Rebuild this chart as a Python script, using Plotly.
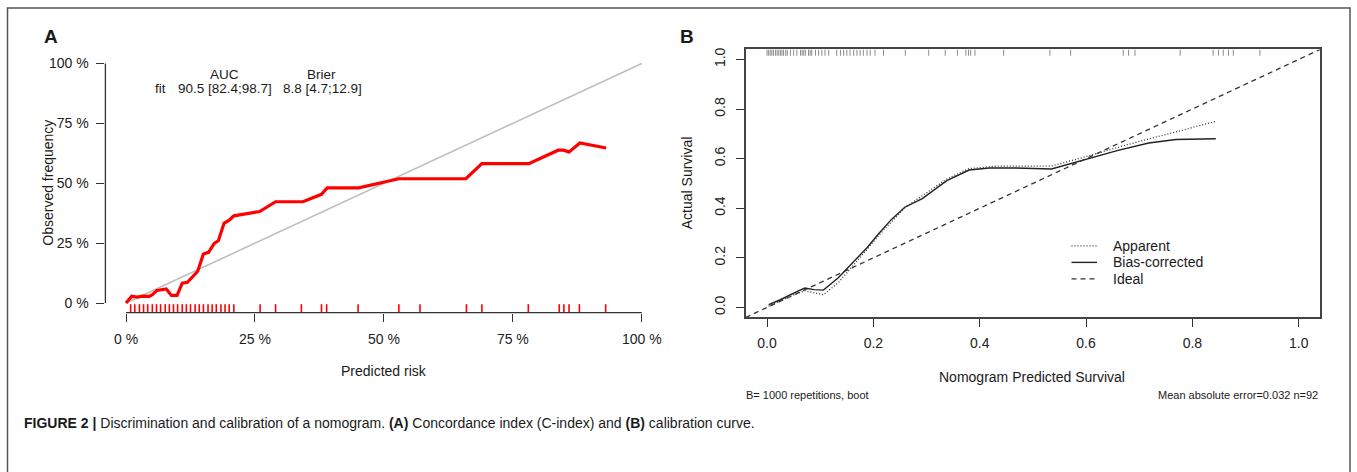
import plotly.graph_objects as go

W, H = 1357, 472

# ---------------- Data ----------------
# Panel A: calibration of predicted risk (fractions)
a_pred = [0.000, 0.011, 0.022, 0.032, 0.045, 0.051, 0.060, 0.078, 0.088, 0.099,
          0.109, 0.119, 0.139, 0.150, 0.160, 0.171, 0.179, 0.190, 0.200, 0.209,
          0.259, 0.290, 0.343, 0.379, 0.390, 0.451, 0.529, 0.659, 0.690, 0.781,
          0.838, 0.848, 0.859, 0.880, 0.931]
a_obs = [0.000, 0.029, 0.025, 0.029, 0.028, 0.035, 0.053, 0.059, 0.032, 0.032,
         0.083, 0.087, 0.133, 0.205, 0.212, 0.249, 0.260, 0.333, 0.346, 0.364,
         0.382, 0.423, 0.423, 0.454, 0.481, 0.481, 0.519, 0.519, 0.582, 0.582,
         0.638, 0.638, 0.631, 0.668, 0.647]
a_rug = [0.009, 0.017, 0.026, 0.034, 0.042, 0.051, 0.059, 0.067, 0.076, 0.084,
         0.092, 0.100, 0.109, 0.117, 0.125, 0.134, 0.142, 0.150, 0.159, 0.167,
         0.175, 0.184, 0.192, 0.200, 0.209, 0.260, 0.290, 0.340, 0.379, 0.389,
         0.450, 0.529, 0.570, 0.660, 0.690, 0.780, 0.840, 0.849, 0.859, 0.879,
         0.930]
a_ticks = [0, 0.25, 0.5, 0.75, 1.0]
a_ticktext = ["0 %", "25 %", "50 %", "75 %", "100 %"]

# Panel B: calibration curves
b_bias_x = [0.003, 0.025, 0.050, 0.071, 0.088, 0.106, 0.134, 0.159, 0.188, 0.209,
            0.234, 0.259, 0.292, 0.338, 0.380, 0.418, 0.468, 0.535, 0.601, 0.660,
            0.718, 0.769, 0.844]
b_bias_y = [0.011, 0.031, 0.058, 0.078, 0.072, 0.070, 0.120, 0.174, 0.241, 0.295,
            0.355, 0.404, 0.439, 0.511, 0.554, 0.562, 0.562, 0.558, 0.596, 0.633,
            0.663, 0.677, 0.680]
b_app_x = [0.003, 0.050, 0.071, 0.088, 0.106, 0.134, 0.159, 0.188, 0.209, 0.259,
           0.338, 0.380, 0.434, 0.535, 0.601, 0.677, 0.760, 0.844]
b_app_y = [0.005, 0.051, 0.067, 0.059, 0.051, 0.100, 0.161, 0.234, 0.288, 0.402,
           0.518, 0.560, 0.570, 0.570, 0.609, 0.656, 0.703, 0.750]
b_ideal = [-0.04, 1.04]
b_rug = [0.000, 0.003, 0.006, 0.009, 0.012, 0.016, 0.019, 0.022, 0.025, 0.028,
         0.031, 0.035, 0.038, 0.044, 0.050, 0.056, 0.063, 0.066, 0.069, 0.072,
         0.078, 0.081, 0.084, 0.091, 0.097, 0.103, 0.109, 0.116, 0.131, 0.138,
         0.144, 0.150, 0.156, 0.163, 0.169, 0.175, 0.181, 0.188, 0.194, 0.203,
         0.219, 0.260, 0.304, 0.335, 0.358, 0.374, 0.379, 0.383, 0.391, 0.445,
         0.532, 0.571, 0.670, 0.680, 0.692, 0.777, 0.839, 0.849, 0.858, 0.868,
         0.877, 0.927]
b_ticks = [0.0, 0.2, 0.4, 0.6, 0.8, 1.0]
b_ticktext = ["0.0", "0.2", "0.4", "0.6", "0.8", "1.0"]
legend_names = ["Apparent", "Bias-corrected", "Ideal"]

# ---------------- Layout helpers ----------------
def px(x):
    return x / W

def py(y):
    return 1 - y / H

FONT = "Liberation Sans, Arial, Helvetica, sans-serif"
RNG = [-0.04, 1.04]
A_XD = [px(105.4), px(662.4)]
A_YD = [py(312.0), py(52.1)]
B_XD = [px(745.8), px(1320.0)]
B_YD = [py(316.7), py(47.7)]
DOT = "1px,2px"
DASH = "5px,4px"


def to_paper(v, dom):
    return dom[0] + (v - RNG[0]) / (RNG[1] - RNG[0]) * (dom[1] - dom[0])


fig = go.Figure()

# Panel A
fig.add_trace(go.Scatter(x=[0, 1], y=[0, 1], mode="lines",
                         line=dict(color="#BEBEBE", width=1.6),
                         xaxis="x", yaxis="y", showlegend=False, hoverinfo="skip"))
fig.add_trace(go.Scatter(x=a_pred, y=a_obs, mode="lines",
                         line=dict(color="#FF0000", width=3.2),
                         xaxis="x", yaxis="y", showlegend=False))
fig.add_trace(go.Scatter(x=a_rug, y=[-0.022] * len(a_rug), mode="markers",
                         marker=dict(symbol="line-ns", size=6,
                                     line=dict(color="#FF0000", width=1.6)),
                         cliponaxis=False,
                         xaxis="x", yaxis="y", showlegend=False))

# Panel B
fig.add_trace(go.Scatter(x=b_app_x, y=b_app_y, mode="lines", name=legend_names[0],
                         line=dict(color="#333333", width=1.3, dash=DOT),
                         xaxis="x2", yaxis="y2", showlegend=False))
fig.add_trace(go.Scatter(x=b_bias_x, y=b_bias_y, mode="lines", name=legend_names[1],
                         line=dict(color="#222222", width=1.4),
                         xaxis="x2", yaxis="y2", showlegend=False))
fig.add_trace(go.Scatter(x=b_ideal, y=b_ideal, mode="lines", name=legend_names[2],
                         line=dict(color="#333333", width=1.3, dash=DASH),
                         xaxis="x2", yaxis="y2", showlegend=False))
fig.add_trace(go.Scatter(x=b_rug, y=[1.027] * len(b_rug), mode="markers",
                         marker=dict(symbol="line-ns", size=4.3,
                                     line=dict(color="#8A8A8A", width=1)),
                         cliponaxis=False, showlegend=False,
                         xaxis="x2", yaxis="y2"))

axis_common = dict(range=RNG, showgrid=False, zeroline=False, ticks="outside",
                   ticklen=8, tickwidth=1.3, tickcolor="#333333",
                   tickfont=dict(family=FONT, size=14, color="#222222"))

fig.update_layout(
    width=W, height=H,
    margin=dict(l=0, r=0, t=0, b=0),
    paper_bgcolor="white", plot_bgcolor="white",
    showlegend=False,
    font=dict(family=FONT, size=14, color="#222222"),
    xaxis=dict(domain=A_XD, anchor="y", tickvals=a_ticks, ticktext=a_ticktext,
               showline=False, ticklabelstandoff=6, **axis_common),
    yaxis=dict(domain=A_YD, anchor="x", tickvals=a_ticks, ticktext=a_ticktext,
               showline=False, ticklabelstandoff=5, **axis_common),
    xaxis2=dict(domain=B_XD, anchor="y2", tickvals=b_ticks, ticktext=b_ticktext,
                showline=True, mirror=True, linecolor="#444444", linewidth=1.5,
                ticklabelstandoff=4, **axis_common),
    yaxis2=dict(domain=B_YD, anchor="x2", tickvals=b_ticks, ticktext=b_ticktext,
                showline=True, mirror=True, linecolor="#444444", linewidth=1.5,
                tickangle=-90, ticklabelstandoff=5, **axis_common),
)

shapes = []
# panel A axis lines (R style: from first to last tick)
shapes.append(dict(type="line", xref="paper", yref="paper",
                   x0=to_paper(0, A_XD), x1=to_paper(1, A_XD),
                   y0=A_YD[0], y1=A_YD[0], line=dict(color="#333333", width=1.3)))
shapes.append(dict(type="line", xref="paper", yref="paper",
                   x0=A_XD[0], x1=A_XD[0],
                   y0=to_paper(0, A_YD), y1=to_paper(1, A_YD),
                   line=dict(color="#333333", width=1.3)))
# outer frame
shapes.append(dict(type="rect", xref="paper", yref="paper",
                   x0=px(7.5), x1=px(1350), y0=py(490), y1=py(6),
                   line=dict(color="#555555", width=1.5)))
# legend samples for panel B
leg_rows = [245, 261.5, 278]
leg_styles = [dict(color="#333333", width=1.3, dash=DOT),
              dict(color="#222222", width=1.4),
              dict(color="#333333", width=1.3, dash=DASH)]
for ry, st in zip(leg_rows, leg_styles):
    shapes.append(dict(type="line", xref="paper", yref="paper",
                       x0=px(1071.5), x1=px(1097), y0=py(ry), y1=py(ry), line=st))
fig.update_layout(shapes=shapes)

ann = []
def text(x, y, s, size=14, xanchor="center", yanchor="middle", angle=0, xref="paper", yref="paper"):
    ann.append(dict(x=x, y=y, xref=xref, yref=yref, text=s, showarrow=False,
                    xanchor=xanchor, yanchor=yanchor, textangle=angle,
                    font=dict(family=FONT, size=size, color="#1a1a1a")))

# panel labels
text(px(42), py(35), "<b>A</b>", size=19, xanchor="left")
text(px(678), py(35), "<b>B</b>", size=19, xanchor="left")
# panel A annotations
text(0.19, 0.952, "AUC", size=13.5, xref="x", yref="y")
text(0.379, 0.952, "Brier", size=13.5, xref="x", yref="y")
text(0.066, 0.897, "fit", size=13.5, xref="x", yref="y")
text(0.192, 0.897, "90.5 [82.4;98.7]", size=13.5, xref="x", yref="y")
text(0.380, 0.897, "8.8 [4.7;12.9]", size=13.5, xref="x", yref="y")
# axis titles
text(px(384), py(371), "Predicted risk")
text(px(48.5), py(182), "Observed frequency", angle=-90)
text(px(1032), py(377), "Nomogram Predicted Survival")
text(px(687), py(182), "Actual Survival", angle=-90)
# legend labels
for ry, name in zip(leg_rows, legend_names):
    text(px(1110.5), py(ry), name, size=14, xanchor="left")
# panel B footers
text(px(744), py(395), "B= 1000 repetitions, boot", size=11, xanchor="left")
text(px(1320), py(395), "Mean absolute error=0.032 n=92", size=11, xanchor="right")
# caption
text(px(22), py(423),
     "<b>FIGURE 2 |</b> Discrimination and calibration of a nomogram. <b>(A)</b> Concordance index (C-index) and <b>(B)</b> calibration curve.",
     size=14, xanchor="left")
fig.update_layout(annotations=ann)

fig.write_html("out.html", config={"displayModeBar": False},
               post_script="document.body.style.margin='0';document.body.style.padding='0';")
